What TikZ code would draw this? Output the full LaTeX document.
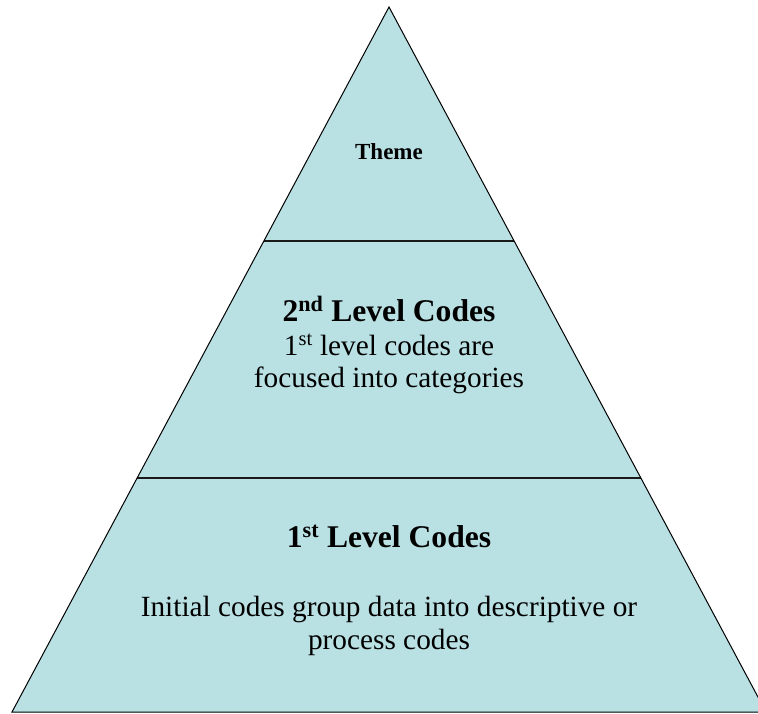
\documentclass[tikz,border=0pt]{standalone}
\usepackage{fontspec}
\setmainfont{Liberation Serif}
\definecolor{tierfill}{RGB}{185,224,227}
\begin{document}
\begin{tikzpicture}[x=1pt,y=-1pt,
  edge/.style={draw=black,line width=1pt,line join=miter},
  divider/.style={draw=black!90,line width=2pt},
  themetext/.style={font=\fontsize{23}{26}\selectfont\bfseries,anchor=base,inner sep=0pt},
  headtext/.style={font=\fontsize{31.6}{35}\selectfont\bfseries,anchor=base,inner sep=0pt},
  bodytext/.style={font=\fontsize{29.3}{33}\selectfont,anchor=base,inner sep=0pt}]
  \useasboundingbox (0,0) rectangle (758,713);
  \clip (0,0) rectangle (758,713);
  % pyramid corners
  \coordinate (apex) at (389,7);
  \coordinate (bl) at (12,712);
  \coordinate (br) at (766,712);
  % tier dividers on the sloping sides
  \coordinate (d1l) at (264,241);
  \coordinate (d1r) at (514,241);
  \coordinate (d2l) at (137,478);
  \coordinate (d2r) at (641,478);
  \fill[tierfill] (apex) -- (bl) -- (br) -- cycle;
  \draw[divider] (d1l) -- (d1r);
  \draw[divider] (d2l) -- (d2r);
  \draw[edge] (apex) -- (bl) -- (br) -- cycle;
  % top tier
  \node[themetext] (theme) at (389,159) {Theme};
  % middle tier
  \node[headtext] (head2) at (389,321) {2\textsuperscript{nd} Level Codes};
  \node[bodytext] (body2a) at (389,355) {1\textsuperscript{st} level codes are};
  \node[bodytext] (body2b) at (389,387) {focused into categories};
  % bottom tier
  \node[headtext] (head1) at (389,547) {1\textsuperscript{st} Level Codes};
  \node[bodytext] (body1a) at (389,616) {Initial codes group data into descriptive or};
  \node[bodytext] (body1b) at (389,649) {process codes};
\end{tikzpicture}
\end{document}
